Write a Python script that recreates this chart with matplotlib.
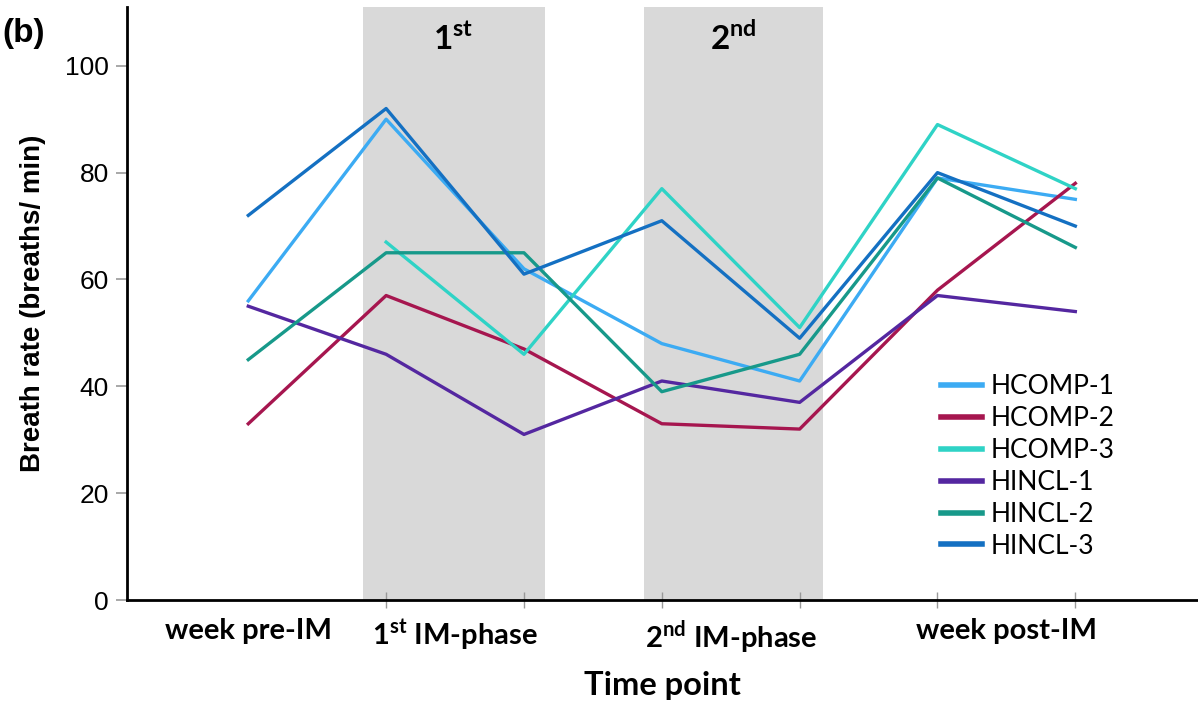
import numpy as np
import matplotlib
matplotlib.use("Agg")
import matplotlib.pyplot as plt

plt.rcParams['mathtext.fontset'] = 'custom'
plt.rcParams['mathtext.rm'] = 'Lato'
plt.rcParams['mathtext.bf'] = 'Lato:bold'

# time points (7 samples across the study)
time_idx = [0, 1, 2, 3, 4, 5, 6]
tick_pos = [0, 1.5, 3.5, 5.5]
tick_labels = ['week pre-IM', r'1$^{\mathbf{st}}$ IM-phase',
               r'2$^{\mathbf{nd}}$ IM-phase', 'week post-IM']

names = ['HCOMP-1', 'HCOMP-2', 'HCOMP-3', 'HINCL-1', 'HINCL-2', 'HINCL-3']
hcomp1 = [56, 90, 62, 48, 41, 79, 75]
hcomp2 = [33, 57, 47, 33, 32, 58, 78]
hcomp3 = [np.nan, 67, 46, 77, 51, 89, 77]
hincl1 = [55, 46, 31, 41, 37, 57, 54]
hincl2 = [45, 65, 65, 39, 46, 79, 66]
hincl3 = [72, 92, 61, 71, 49, 80, 70]
colors = ['#3cabf3', '#a6164f', '#2fd3c6', '#5427a0', '#17998a', '#1470c2']

# immersion phases shaded
phase_spans = [(0.83, 2.15), (2.87, 4.17)]
phase_names = [r'1$^{\mathbf{st}}$', r'2$^{\mathbf{nd}}$']

fig = plt.figure(figsize=(11.98, 7.01), dpi=100)
ax = fig.add_axes([0.106, 0.144, 0.894, 0.846])

for (x0, x1), lbl in zip(phase_spans, phase_names):
    ax.axvspan(x0, x1, color='#d9d9d9', lw=0, zorder=0)
    ax.text((x0 + x1) / 2, 105.2, lbl, ha='center', va='center',
            fontsize=24, fontweight='bold', family='Lato')

for vals, name, c in zip([hcomp1, hcomp2, hcomp3, hincl1, hincl2, hincl3],
                         names, colors):
    ax.plot(time_idx, vals, color=c, lw=2.4, label=name, zorder=3)

ax.set_xlim(-0.88, 6.89)
ax.set_ylim(0, 111)
ax.spines['top'].set_visible(False)
ax.spines['right'].set_visible(False)
ax.spines['left'].set_linewidth(2)
ax.spines['bottom'].set_linewidth(2)

ax.set_yticks([0, 20, 40, 60, 80, 100])
ax.tick_params(axis='y', length=8, width=1.2, color='#999999', labelsize=19, pad=5)
for t in ax.get_yticklabels():
    t.set_family('Liberation Sans')

ax.set_xticks(tick_pos)
ax.set_xticklabels(tick_labels, fontsize=21, fontweight='bold', family='Lato')
ax.set_xticks(time_idx, minor=True)
ax.tick_params(axis='x', which='major', length=0, pad=13)
ax.tick_params(axis='x', which='minor', length=12, direction='inout',
               width=1, color='#999999')

ax.set_xlabel('Time point', fontsize=23.5, fontweight='bold', family='Lato', labelpad=11)
ax.set_ylabel('Breath rate (breaths/ min)', fontsize=20, fontweight='bold',
              family='Liberation Sans', labelpad=14)

leg = ax.legend(loc='lower left', bbox_to_anchor=(0.75, 0.052), frameon=False,
                prop={'family': 'Lato', 'size': 19}, handlelength=1.55,
                handletextpad=0.35, labelspacing=0.26, borderaxespad=0)
for h in leg.get_lines():
    h.set_linewidth(4)

fig.text(0.002, 0.94, '(b)', fontsize=24, fontweight='bold', family='Liberation Sans')

fig.savefig('out.png', dpi=100)
